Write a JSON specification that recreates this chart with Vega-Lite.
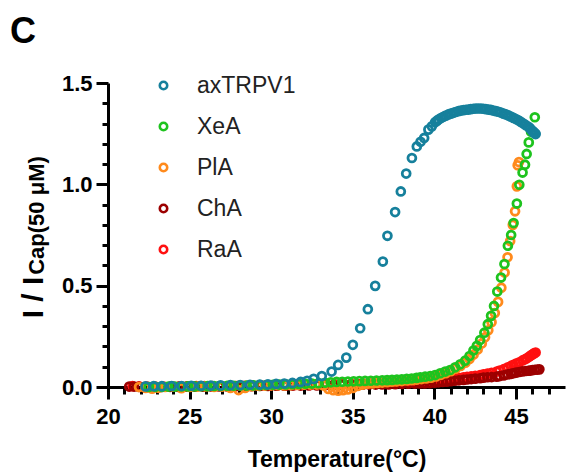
{
  "$schema": "https://vega.github.io/schema/vega-lite/v6.json",
  "width": 457,
  "height": 304,
  "autosize": "none",
  "padding": {"left": 108, "top": 83, "right": 1, "bottom": 89},
  "title": {"text": "C", "anchor": "start", "frame": "group", "fontSize": 36, "fontWeight": "bold", "font": "Liberation Sans", "color": "#000000", "dx": -98, "dy": 37, "offset": 30, "baseline": "alphabetic"},
  "config": {
    "view": {"stroke": null},
    "font": "Liberation Sans",
    "axis": {"grid": false, "domainColor": "#000000", "domainWidth": 3, "tickColor": "#000000", "tickWidth": 3, "labelFont": "Liberation Sans", "labelFontSize": 22, "labelFontWeight": "bold", "labelColor": "#000000", "titleFont": "Liberation Sans", "titleColor": "#000000", "titleFontWeight": "bold", "labelFlush": false, "labelOverlap": false},
    "legend": {"orient": "none", "legendX": 44, "legendY": -9, "labelFontSize": 23, "labelFont": "Liberation Sans", "labelColor": "#222222", "symbolType": "circle", "symbolSize": 55, "symbolStrokeWidth": 2.6, "rowPadding": 17, "labelOffset": 22, "padding": 0}
  },
  "data": {"values": [
    {"s":"RaA","t":21.5,"v":0.004},{"s":"RaA","t":21.9,"v":0.003},{"s":"RaA","t":22.4,"v":0.002},{"s":"RaA","t":22.9,"v":0.002},{"s":"RaA","t":23.4,"v":0.002},{"s":"RaA","t":23.9,"v":0.003},{"s":"RaA","t":24.4,"v":0.003},{"s":"RaA","t":24.9,"v":0.003},{"s":"RaA","t":25.4,"v":0.004},{"s":"RaA","t":25.9,"v":0.004},{"s":"RaA","t":26.4,"v":0.004},{"s":"RaA","t":26.9,"v":0.005},{"s":"RaA","t":27.4,"v":0.005},{"s":"RaA","t":27.9,"v":0.005},{"s":"RaA","t":28.4,"v":0.006},{"s":"RaA","t":28.9,"v":0.006},{"s":"RaA","t":29.4,"v":0.007},{"s":"RaA","t":29.9,"v":0.007},{"s":"RaA","t":30.4,"v":0.008},{"s":"RaA","t":30.9,"v":0.008},{"s":"RaA","t":31.4,"v":0.009},{"s":"RaA","t":31.9,"v":0.01},{"s":"RaA","t":32.4,"v":0.01},{"s":"RaA","t":32.9,"v":0.011},{"s":"RaA","t":33.4,"v":0.012},{"s":"RaA","t":33.9,"v":0.013},{"s":"RaA","t":34.4,"v":0.014},{"s":"RaA","t":34.9,"v":0.015},{"s":"RaA","t":35.3,"v":0.016},{"s":"RaA","t":35.7,"v":0.016},{"s":"RaA","t":36.1,"v":0.017},{"s":"RaA","t":36.5,"v":0.018},{"s":"RaA","t":36.9,"v":0.019},{"s":"RaA","t":37.3,"v":0.02},{"s":"RaA","t":37.7,"v":0.021},{"s":"RaA","t":38.1,"v":0.022},{"s":"RaA","t":38.5,"v":0.023},{"s":"RaA","t":38.9,"v":0.024},{"s":"RaA","t":39.3,"v":0.025},{"s":"RaA","t":39.6,"v":0.027},{"s":"RaA","t":39.9,"v":0.029},{"s":"RaA","t":40.2,"v":0.032},{"s":"RaA","t":40.5,"v":0.035},{"s":"RaA","t":40.76,"v":0.038},{"s":"RaA","t":41.0,"v":0.041},{"s":"RaA","t":41.25,"v":0.043},{"s":"RaA","t":41.5,"v":0.045},{"s":"RaA","t":41.78,"v":0.048},{"s":"RaA","t":42.0,"v":0.05},{"s":"RaA","t":42.25,"v":0.052},{"s":"RaA","t":42.5,"v":0.055},{"s":"RaA","t":42.8,"v":0.059},{"s":"RaA","t":43.0,"v":0.062},{"s":"RaA","t":43.25,"v":0.066},{"s":"RaA","t":43.5,"v":0.07},{"s":"RaA","t":43.82,"v":0.076},{"s":"RaA","t":44.0,"v":0.081},{"s":"RaA","t":44.25,"v":0.088},{"s":"RaA","t":44.5,"v":0.097},{"s":"RaA","t":44.7,"v":0.104},{"s":"RaA","t":44.84,"v":0.109},{"s":"RaA","t":45.0,"v":0.115},{"s":"RaA","t":45.2,"v":0.122},{"s":"RaA","t":45.4,"v":0.131},{"s":"RaA","t":45.55,"v":0.137},{"s":"RaA","t":45.66,"v":0.142},{"s":"RaA","t":45.8,"v":0.149},{"s":"RaA","t":45.9,"v":0.155},{"s":"RaA","t":46.0,"v":0.16},{"s":"RaA","t":46.1,"v":0.166},{"s":"RaA","t":46.2,"v":0.17},
    {"s":"ChA","t":21.3,"v":0.002},{"s":"ChA","t":21.6,"v":0.002},{"s":"ChA","t":21.9,"v":0.001},{"s":"ChA","t":22.3,"v":0.001},{"s":"ChA","t":22.8,"v":0.0},{"s":"ChA","t":23.3,"v":0.0},{"s":"ChA","t":23.8,"v":0.001},{"s":"ChA","t":24.3,"v":0.001},{"s":"ChA","t":24.8,"v":0.002},{"s":"ChA","t":25.3,"v":0.002},{"s":"ChA","t":25.8,"v":0.002},{"s":"ChA","t":26.3,"v":0.003},{"s":"ChA","t":26.8,"v":0.003},{"s":"ChA","t":27.3,"v":0.003},{"s":"ChA","t":27.8,"v":0.004},{"s":"ChA","t":28.3,"v":0.004},{"s":"ChA","t":28.8,"v":0.004},{"s":"ChA","t":29.3,"v":0.005},{"s":"ChA","t":29.8,"v":0.005},{"s":"ChA","t":30.3,"v":0.006},{"s":"ChA","t":30.8,"v":0.006},{"s":"ChA","t":31.3,"v":0.007},{"s":"ChA","t":31.8,"v":0.007},{"s":"ChA","t":32.3,"v":0.008},{"s":"ChA","t":32.8,"v":0.008},{"s":"ChA","t":33.3,"v":0.009},{"s":"ChA","t":33.8,"v":0.009},{"s":"ChA","t":34.3,"v":0.01},{"s":"ChA","t":34.8,"v":0.01},{"s":"ChA","t":35.2,"v":0.011},{"s":"ChA","t":35.6,"v":0.011},{"s":"ChA","t":36.0,"v":0.012},{"s":"ChA","t":36.4,"v":0.012},{"s":"ChA","t":36.8,"v":0.013},{"s":"ChA","t":37.2,"v":0.013},{"s":"ChA","t":37.6,"v":0.014},{"s":"ChA","t":38.0,"v":0.015},{"s":"ChA","t":38.4,"v":0.016},{"s":"ChA","t":38.8,"v":0.017},{"s":"ChA","t":39.1,"v":0.018},{"s":"ChA","t":39.4,"v":0.018},{"s":"ChA","t":39.7,"v":0.019},{"s":"ChA","t":40.0,"v":0.021},{"s":"ChA","t":40.25,"v":0.023},{"s":"ChA","t":40.5,"v":0.025},{"s":"ChA","t":40.76,"v":0.026},{"s":"ChA","t":41.0,"v":0.029},{"s":"ChA","t":41.25,"v":0.031},{"s":"ChA","t":41.5,"v":0.033},{"s":"ChA","t":41.78,"v":0.035},{"s":"ChA","t":42.0,"v":0.037},{"s":"ChA","t":42.25,"v":0.039},{"s":"ChA","t":42.5,"v":0.041},{"s":"ChA","t":42.8,"v":0.043},{"s":"ChA","t":43.0,"v":0.046},{"s":"ChA","t":43.25,"v":0.048},{"s":"ChA","t":43.5,"v":0.049},{"s":"ChA","t":43.82,"v":0.051},{"s":"ChA","t":44.0,"v":0.054},{"s":"ChA","t":44.25,"v":0.057},{"s":"ChA","t":44.5,"v":0.062},{"s":"ChA","t":44.7,"v":0.065},{"s":"ChA","t":44.84,"v":0.068},{"s":"ChA","t":45.0,"v":0.071},{"s":"ChA","t":45.2,"v":0.074},{"s":"ChA","t":45.4,"v":0.077},{"s":"ChA","t":45.6,"v":0.079},{"s":"ChA","t":45.75,"v":0.08},{"s":"ChA","t":45.86,"v":0.081},{"s":"ChA","t":46.0,"v":0.083},{"s":"ChA","t":46.15,"v":0.085},{"s":"ChA","t":46.3,"v":0.086},{"s":"ChA","t":46.43,"v":0.087},
    {"s":"PlA","t":21.9,"v":0.0},{"s":"PlA","t":22.3,"v":-0.005},{"s":"PlA","t":22.7,"v":-0.008},{"s":"PlA","t":23.1,"v":-0.004},{"s":"PlA","t":23.5,"v":0.0},{"s":"PlA","t":24.0,"v":0.002},{"s":"PlA","t":24.5,"v":-0.006},{"s":"PlA","t":25.0,"v":0.0},{"s":"PlA","t":25.5,"v":0.002},{"s":"PlA","t":26.0,"v":0.003},{"s":"PlA","t":26.5,"v":0.0},{"s":"PlA","t":27.0,"v":0.002},{"s":"PlA","t":27.5,"v":-0.005},{"s":"PlA","t":28.0,"v":-0.015},{"s":"PlA","t":28.4,"v":-0.005},{"s":"PlA","t":28.8,"v":0.004},{"s":"PlA","t":29.2,"v":0.006},{"s":"PlA","t":29.6,"v":0.007},{"s":"PlA","t":30.0,"v":0.008},{"s":"PlA","t":30.4,"v":0.009},{"s":"PlA","t":30.8,"v":0.008},{"s":"PlA","t":31.2,"v":0.009},{"s":"PlA","t":31.6,"v":0.01},{"s":"PlA","t":32.0,"v":0.011},{"s":"PlA","t":32.4,"v":0.012},{"s":"PlA","t":32.8,"v":0.012},{"s":"PlA","t":33.2,"v":0.008},{"s":"PlA","t":33.5,"v":-0.01},{"s":"PlA","t":33.8,"v":-0.016},{"s":"PlA","t":34.1,"v":-0.018},{"s":"PlA","t":34.4,"v":-0.016},{"s":"PlA","t":34.7,"v":-0.012},{"s":"PlA","t":35.0,"v":-0.005},{"s":"PlA","t":35.3,"v":0.005},{"s":"PlA","t":35.6,"v":0.012},{"s":"PlA","t":35.9,"v":0.016},{"s":"PlA","t":36.2,"v":0.018},{"s":"PlA","t":36.5,"v":0.02},{"s":"PlA","t":36.8,"v":0.022},{"s":"PlA","t":37.1,"v":0.024},{"s":"PlA","t":37.4,"v":0.026},{"s":"PlA","t":37.7,"v":0.028},{"s":"PlA","t":38.0,"v":0.03},{"s":"PlA","t":38.3,"v":0.032},{"s":"PlA","t":38.6,"v":0.034},{"s":"PlA","t":38.9,"v":0.036},{"s":"PlA","t":39.2,"v":0.039},{"s":"PlA","t":39.5,"v":0.042},{"s":"PlA","t":39.8,"v":0.046},{"s":"PlA","t":40.1,"v":0.052},{"s":"PlA","t":40.4,"v":0.06},{"s":"PlA","t":40.7,"v":0.068},{"s":"PlA","t":41.0,"v":0.078},{"s":"PlA","t":41.3,"v":0.09},{"s":"PlA","t":41.6,"v":0.104},{"s":"PlA","t":41.9,"v":0.12},{"s":"PlA","t":42.15,"v":0.138},{"s":"PlA","t":42.4,"v":0.16},{"s":"PlA","t":42.65,"v":0.185},{"s":"PlA","t":42.9,"v":0.215},{"s":"PlA","t":43.1,"v":0.245},{"s":"PlA","t":43.3,"v":0.28},{"s":"PlA","t":43.5,"v":0.32},{"s":"PlA","t":43.7,"v":0.365},{"s":"PlA","t":43.9,"v":0.42},{"s":"PlA","t":44.1,"v":0.49},{"s":"PlA","t":44.3,"v":0.565},{"s":"PlA","t":44.48,"v":0.64},{"s":"PlA","t":44.64,"v":0.72},{"s":"PlA","t":44.8,"v":0.8},{"s":"PlA","t":44.94,"v":0.867},{"s":"PlA","t":45.05,"v":0.99},{"s":"PlA","t":45.1,"v":1.094},{"s":"PlA","t":45.18,"v":1.11},
    {"s":"XeA","t":22.5,"v":0.0},{"s":"XeA","t":22.9,"v":0.001},{"s":"XeA","t":23.3,"v":0.001},{"s":"XeA","t":23.7,"v":0.002},{"s":"XeA","t":24.1,"v":0.002},{"s":"XeA","t":24.5,"v":0.003},{"s":"XeA","t":24.9,"v":0.003},{"s":"XeA","t":25.3,"v":0.003},{"s":"XeA","t":25.7,"v":0.004},{"s":"XeA","t":26.1,"v":0.004},{"s":"XeA","t":26.5,"v":0.005},{"s":"XeA","t":26.9,"v":0.005},{"s":"XeA","t":27.3,"v":0.006},{"s":"XeA","t":27.7,"v":0.006},{"s":"XeA","t":28.1,"v":0.007},{"s":"XeA","t":28.5,"v":0.007},{"s":"XeA","t":28.9,"v":0.008},{"s":"XeA","t":29.3,"v":0.009},{"s":"XeA","t":29.7,"v":0.01},{"s":"XeA","t":30.1,"v":0.011},{"s":"XeA","t":30.5,"v":0.012},{"s":"XeA","t":30.9,"v":0.013},{"s":"XeA","t":31.3,"v":0.014},{"s":"XeA","t":31.7,"v":0.015},{"s":"XeA","t":32.1,"v":0.016},{"s":"XeA","t":32.5,"v":0.017},{"s":"XeA","t":32.9,"v":0.019},{"s":"XeA","t":33.3,"v":0.021},{"s":"XeA","t":33.65,"v":0.023},{"s":"XeA","t":34.0,"v":0.025},{"s":"XeA","t":34.35,"v":0.026},{"s":"XeA","t":34.7,"v":0.027},{"s":"XeA","t":35.05,"v":0.028},{"s":"XeA","t":35.4,"v":0.029},{"s":"XeA","t":35.75,"v":0.03},{"s":"XeA","t":36.1,"v":0.031},{"s":"XeA","t":36.45,"v":0.032},{"s":"XeA","t":36.8,"v":0.033},{"s":"XeA","t":37.1,"v":0.034},{"s":"XeA","t":37.4,"v":0.035},{"s":"XeA","t":37.7,"v":0.037},{"s":"XeA","t":38.0,"v":0.038},{"s":"XeA","t":38.3,"v":0.04},{"s":"XeA","t":38.6,"v":0.042},{"s":"XeA","t":38.9,"v":0.045},{"s":"XeA","t":39.13,"v":0.048},{"s":"XeA","t":39.43,"v":0.051},{"s":"XeA","t":39.74,"v":0.054},{"s":"XeA","t":40.04,"v":0.059},{"s":"XeA","t":40.35,"v":0.068},{"s":"XeA","t":40.66,"v":0.076},{"s":"XeA","t":40.96,"v":0.084},{"s":"XeA","t":41.27,"v":0.097},{"s":"XeA","t":41.58,"v":0.112},{"s":"XeA","t":41.88,"v":0.13},{"s":"XeA","t":42.15,"v":0.153},{"s":"XeA","t":42.39,"v":0.18},{"s":"XeA","t":42.6,"v":0.203},{"s":"XeA","t":42.8,"v":0.232},{"s":"XeA","t":43.06,"v":0.268},{"s":"XeA","t":43.27,"v":0.31},{"s":"XeA","t":43.47,"v":0.351},{"s":"XeA","t":43.65,"v":0.4},{"s":"XeA","t":43.85,"v":0.471},{"s":"XeA","t":44.08,"v":0.54},{"s":"XeA","t":44.29,"v":0.607},{"s":"XeA","t":44.5,"v":0.697},{"s":"XeA","t":44.7,"v":0.75},{"s":"XeA","t":44.85,"v":0.809},{"s":"XeA","t":45.05,"v":0.905},{"s":"XeA","t":45.2,"v":0.998},{"s":"XeA","t":45.4,"v":1.058},{"s":"XeA","t":45.55,"v":1.097},{"s":"XeA","t":45.65,"v":1.15},{"s":"XeA","t":45.78,"v":1.207},{"s":"XeA","t":45.92,"v":1.26},{"s":"XeA","t":46.15,"v":1.331},
    {"s":"axTRPV1","t":22.3,"v":0.003},{"s":"axTRPV1","t":22.8,"v":0.004},{"s":"axTRPV1","t":23.3,"v":0.004},{"s":"axTRPV1","t":23.9,"v":0.005},{"s":"axTRPV1","t":24.5,"v":0.005},{"s":"axTRPV1","t":25.1,"v":0.006},{"s":"axTRPV1","t":25.7,"v":0.006},{"s":"axTRPV1","t":26.3,"v":0.007},{"s":"axTRPV1","t":26.9,"v":0.008},{"s":"axTRPV1","t":27.5,"v":0.009},{"s":"axTRPV1","t":28.1,"v":0.01},{"s":"axTRPV1","t":28.7,"v":0.011},{"s":"axTRPV1","t":29.3,"v":0.012},{"s":"axTRPV1","t":29.8,"v":0.013},{"s":"axTRPV1","t":30.3,"v":0.015},{"s":"axTRPV1","t":30.8,"v":0.017},{"s":"axTRPV1","t":31.3,"v":0.02},{"s":"axTRPV1","t":31.8,"v":0.025},{"s":"axTRPV1","t":32.2,"v":0.031},{"s":"axTRPV1","t":32.6,"v":0.04},{"s":"axTRPV1","t":33.1,"v":0.054},{"s":"axTRPV1","t":33.7,"v":0.076},{"s":"axTRPV1","t":34.1,"v":0.109},{"s":"axTRPV1","t":34.6,"v":0.145},{"s":"axTRPV1","t":35.0,"v":0.208},{"s":"axTRPV1","t":35.45,"v":0.29},{"s":"axTRPV1","t":35.92,"v":0.384},{"s":"axTRPV1","t":36.37,"v":0.499},{"s":"axTRPV1","t":36.84,"v":0.619},{"s":"axTRPV1","t":37.12,"v":0.746},{"s":"axTRPV1","t":37.59,"v":0.863},{"s":"axTRPV1","t":37.94,"v":0.965},{"s":"axTRPV1","t":38.27,"v":1.053},{"s":"axTRPV1","t":38.62,"v":1.13},{"s":"axTRPV1","t":38.92,"v":1.187},{"s":"axTRPV1","t":39.15,"v":1.21},{"s":"axTRPV1","t":39.37,"v":1.229},{"s":"axTRPV1","t":39.63,"v":1.27},{"s":"axTRPV1","t":39.84,"v":1.286},{"s":"axTRPV1","t":40.04,"v":1.306},{"s":"axTRPV1","t":40.15,"v":1.313},{"s":"axTRPV1","t":40.25,"v":1.32},{"s":"axTRPV1","t":40.4,"v":1.327},{"s":"axTRPV1","t":40.55,"v":1.333},{"s":"axTRPV1","t":40.7,"v":1.339},{"s":"axTRPV1","t":40.86,"v":1.345},{"s":"axTRPV1","t":41.0,"v":1.349},{"s":"axTRPV1","t":41.16,"v":1.353},{"s":"axTRPV1","t":41.3,"v":1.357},{"s":"axTRPV1","t":41.47,"v":1.361},{"s":"axTRPV1","t":41.62,"v":1.364},{"s":"axTRPV1","t":41.78,"v":1.366},{"s":"axTRPV1","t":41.93,"v":1.368},{"s":"axTRPV1","t":42.08,"v":1.369},{"s":"axTRPV1","t":42.23,"v":1.371},{"s":"axTRPV1","t":42.39,"v":1.373},{"s":"axTRPV1","t":42.54,"v":1.374},{"s":"axTRPV1","t":42.69,"v":1.374},{"s":"axTRPV1","t":42.85,"v":1.374},{"s":"axTRPV1","t":43.0,"v":1.373},{"s":"axTRPV1","t":43.15,"v":1.371},{"s":"axTRPV1","t":43.31,"v":1.369},{"s":"axTRPV1","t":43.46,"v":1.367},{"s":"axTRPV1","t":43.61,"v":1.364},{"s":"axTRPV1","t":43.77,"v":1.361},{"s":"axTRPV1","t":43.92,"v":1.358},{"s":"axTRPV1","t":44.07,"v":1.354},{"s":"axTRPV1","t":44.23,"v":1.349},{"s":"axTRPV1","t":44.38,"v":1.345},{"s":"axTRPV1","t":44.53,"v":1.34},{"s":"axTRPV1","t":44.68,"v":1.334},{"s":"axTRPV1","t":44.84,"v":1.328},{"s":"axTRPV1","t":44.99,"v":1.322},{"s":"axTRPV1","t":45.14,"v":1.316},{"s":"axTRPV1","t":45.3,"v":1.308},{"s":"axTRPV1","t":45.45,"v":1.3},{"s":"axTRPV1","t":45.6,"v":1.292},{"s":"axTRPV1","t":45.76,"v":1.284},{"s":"axTRPV1","t":45.86,"v":1.276},{"s":"axTRPV1","t":45.96,"v":1.267},{"s":"axTRPV1","t":46.05,"v":1.26},{"s":"axTRPV1","t":46.1,"v":1.256},{"s":"axTRPV1","t":46.17,"v":1.251},{"s":"axTRPV1","t":46.2,"v":1.248}
  ]},
  "encoding": {
    "x": {"field": "t", "type": "quantitative", "scale": {"domain": [20, 48], "nice": false, "zero": false},
      "axis": {"values": [20,21,22,23,24,25,26,27,28,29,30,31,32,33,34,35,36,37,38,39,40,41,42,43,44,45,46,47],
        "labelExpr": "datum.value % 5 === 0 ? datum.label : ''",
        "tickSize": {"condition": {"test": "datum.value % 5 === 0", "value": 12}, "value": 7},
        "labelPadding": 7,
        "title": "Temperature(°C)", "titleFontSize": 23, "titleX": 228.5, "titleY": 79, "titleAlign": "center", "titleBaseline": "alphabetic"}},
    "color": {"field": "s", "type": "nominal", "title": null,
      "scale": {"domain": ["axTRPV1", "XeA", "PlA", "ChA", "RaA"], "range": ["#16809c", "#1ec31e", "#ff8a1c", "#9c0000", "#ff1010"]}}
  },
  "layer": [
    {
      "transform": [{"filter": "datum.s !== 'axTRPV1'"}],
      "mark": {"type": "point", "shape": "circle", "filled": false, "size": 62, "strokeWidth": 2.8, "opacity": 1},
      "encoding": {
        "y": {"field": "v", "type": "quantitative", "scale": {"domain": [0, 1.5], "nice": false, "zero": false},
          "axis": {"orient": "left", "domain": false, "ticks": false, "labels": false, "title": "Cap(50 μM)", "titleFontSize": 22, "titleAngle": 270, "titleX": -64.5, "titleY": 132, "titleAlign": "center", "titleBaseline": "alphabetic"}}
      }
    },
    {
      "transform": [{"filter": "datum.s === 'axTRPV1'"}],
      "mark": {"type": "point", "shape": "circle", "filled": false, "size": 62, "strokeWidth": 2.8, "opacity": 1},
      "encoding": {
        "y": {"field": "v", "type": "quantitative", "scale": {"domain": [0, 1.5], "nice": false, "zero": false},
          "axis": {"orient": "left", "values": [0,0.1,0.2,0.3,0.4,0.5,0.6,0.7,0.8,0.9,1.0,1.1,1.2,1.3,1.4,1.5],
            "labelExpr": "abs(datum.value*2 - round(datum.value*2)) < 0.001 ? format(datum.value, '.1f') : ''",
            "tickSize": {"condition": {"test": "abs(datum.value*2 - round(datum.value*2)) < 0.001", "value": 12}, "value": 6},
            "labelPadding": 4,
            "title": "I / I", "titleFontSize": 30, "titleAngle": 270, "titleX": -66, "titleY": 214, "titleAlign": "center", "titleBaseline": "alphabetic"}}
      }
    }
  ],
  "resolve": {"axis": {"y": "independent"}}
}
